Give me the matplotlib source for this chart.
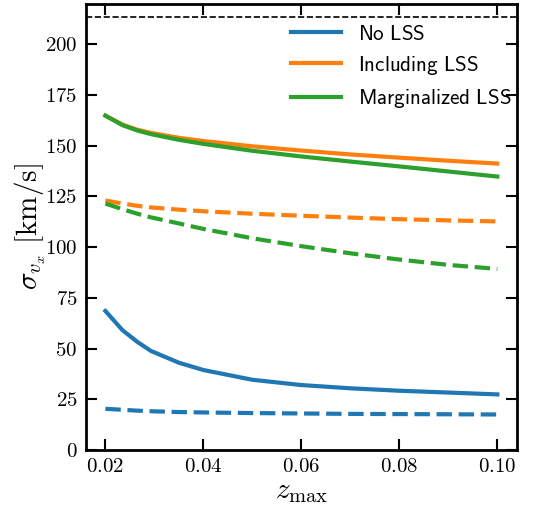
import numpy as np
import matplotlib
matplotlib.use("Agg")
import matplotlib.pyplot as plt

plt.rcParams['mathtext.fontset'] = 'cm'
plt.rcParams['font.family'] = 'serif'
plt.rcParams['font.serif'] = ['cmr10']
plt.rcParams['axes.formatter.use_mathtext'] = True

# z_max grid and sigma_vx values [km/s]
z_max = [0.020, 0.0235, 0.0265, 0.0293, 0.035, 0.040, 0.050, 0.060, 0.070, 0.080, 0.090, 0.100]

no_lss_solid = [68.5, 59.0, 53.3, 48.8, 43.0, 39.4, 34.6, 32.0, 30.4, 29.2, 28.3, 27.4]
no_lss_dashed = [20.3, 19.8, 19.4, 19.1, 18.7, 18.5, 18.2, 18.0, 17.8, 17.7, 17.6, 17.5]

incl_lss_solid = [164.7, 160.3, 157.8, 156.2, 153.8, 152.2, 149.6, 147.5, 145.6, 144.0, 142.5, 141.1]
incl_lss_dashed = [122.9, 121.4, 120.3, 119.5, 118.4, 117.6, 116.4, 115.4, 114.5, 113.7, 113.1, 112.6]

marg_lss_solid = [164.7, 160.0, 157.4, 155.6, 152.8, 150.8, 147.4, 144.6, 142.1, 139.7, 137.2, 134.7]
marg_lss_dashed = [121.4, 118.6, 116.4, 114.6, 111.6, 108.9, 104.3, 100.4, 96.9, 93.8, 91.2, 89.2]

sigma_ref = 213.3
y_ticks = [0, 25, 50, 75, 100, 125, 150, 175, 200]
x_ticks = [0.02, 0.04, 0.06, 0.08, 0.10]

fig = plt.figure(figsize=(5.43, 5.07), dpi=100)
ax = fig.add_axes([0.158, 0.1124, 0.794, 0.8797])

ax.plot(z_max, no_lss_solid, color='C0', lw=3, label=r'$\mathsf{No\ LSS}$')
ax.plot(z_max, incl_lss_solid, color='C1', lw=3, label=r'$\mathsf{Including\ LSS}$')
ax.plot(z_max, marg_lss_solid, color='C2', lw=3, label=r'$\mathsf{Marginalized\ LSS}$')
ax.plot(z_max, no_lss_dashed, color='C0', lw=3, ls='--')
ax.plot(z_max, incl_lss_dashed, color='C1', lw=3, ls='--')
ax.plot(z_max, marg_lss_dashed, color='C2', lw=3, ls='--')
ax.axhline(sigma_ref, color='k', lw=1.2, ls='--')

ax.set_ylim(0, 219.7)
ax.set_xticks(x_ticks)
ax.set_xticklabels([r'$%.2f$' % v for v in x_ticks])
ax.set_yticks(y_ticks)
ax.set_yticklabels([r'$%d$' % v for v in y_ticks])

ax.tick_params(direction='in', top=True, right=True, length=8, width=1.5,
               labelsize=15, pad=6)
for s in ax.spines.values():
    s.set_linewidth(2)

ax.set_xlabel(r'$z_{\rm max}$', fontsize=21, labelpad=2)
ax.set_ylabel(r'$\sigma_{v_x}\ [\rm km/s]$', fontsize=21, labelpad=-2)

ax.legend(loc='upper right', frameon=False, fontsize=15.2, handlelength=2.35,
          borderaxespad=0.3, labelspacing=0.48, bbox_to_anchor=(1.021, 0.988))

fig.savefig('out.png', dpi=100)
